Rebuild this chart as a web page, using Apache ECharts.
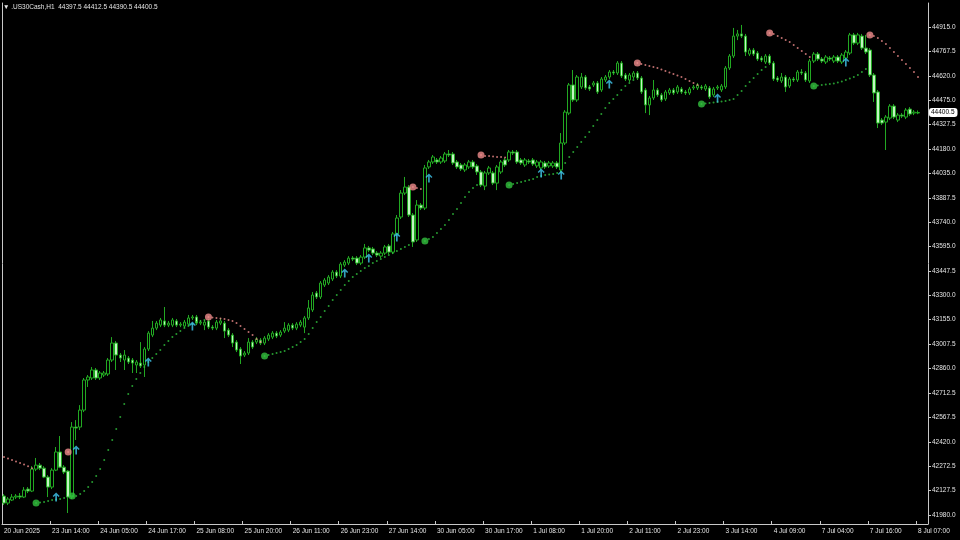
<!DOCTYPE html>
<html><head><meta charset="utf-8">
<script src="https://cdn.jsdelivr.net/npm/echarts@6/dist/echarts.min.js"></script>
<style>html,body{margin:0;padding:0;background:#000}#c{width:960px;height:540px}</style>
</head><body><div id="c"></div>
<script>
const symbolName = '.US30Cash,H1';
const lastQuote = [44397.5, 44412.5, 44390.5, 44400.5]; // O H L C
const timeLabels = ['20 Jun 2025','23 Jun 14:00','24 Jun 05:00','24 Jun 17:00','25 Jun 08:00','25 Jun 20:00','26 Jun 11:00','26 Jun 23:00','27 Jun 14:00','30 Jun 05:00','30 Jun 17:00','1 Jul 08:00','1 Jul 20:00','2 Jul 11:00','2 Jul 23:00','3 Jul 14:00','4 Jul 09:00','7 Jul 04:00','7 Jul 16:00','8 Jul 07:00'];
const labelEvery = 12;
const yTicks = [41980,42127.5,42272.5,42420,42567.5,42712.5,42860,43007.5,43155,43300,43447.5,43595,43740,43887.5,44035,44180,44327.5,44475,44620,44767.5,44915];
const yMin = 41926, yMax = 45059;
// [open, close, low, high]
const ohlc = [
[42094,42052,42040,42106],[42052,42076,42040,42088],[42070,42088,42064,42106],[42088,42094,42076,42106],[42094,42088,42076,42112],
[42088,42130,42082,42148],[42136,42124,42112,42148],[42124,42256,42118,42274],[42256,42280,42244,42323],[42280,42262,42250,42293],
[42262,42208,42202,42274],[42208,42148,42088,42220],[42148,42250,42136,42262],[42250,42359,42244,42389],[42359,42268,42262,42455],
[42268,42238,42226,42280],[42244,42088,41992,42250],[42088,42509,42076,42539],[42509,42503,42431,42551],[42509,42611,42491,42641],
[42611,42792,42599,42804],[42792,42810,42750,42822],[42804,42852,42792,42870],[42852,42804,42792,42864],[42804,42834,42792,42846],
[42822,42834,42810,42846],[42828,42912,42816,42924],[42912,43014,42900,43050],[43014,42942,42852,43026],[42942,42924,42900,42954],
[42912,42942,42852,42972],[42924,42900,42888,42936],[42912,42894,42834,42924],[42882,42900,42834,42912],[42894,42876,42864,43020],
[42882,42978,42810,42990],[42978,43074,42966,43086],[43062,43104,43050,43147],[43104,43134,43092,43147],[43122,43153,43110,43165],
[43147,43122,43110,43231],[43122,43134,43110,43147],[43122,43153,43110,43165],[43147,43122,43110,43159],[43122,43128,43110,43140],
[43116,43140,43104,43153],[43128,43165,43116,43183],[43165,43171,43153,43183],[43171,43134,43122,43183],[43134,43140,43122,43153],
[43122,43140,43092,43153],[43147,43110,43098,43159],[43110,43104,43092,43122],[43104,43140,43092,43153],[43134,43147,43122,43165],
[43134,43086,43044,43147],[43092,43062,43050,43104],[43062,43014,42990,43074],[43020,42972,42960,43032],[42978,42936,42888,42990],
[42942,42954,42930,42966],[42954,43020,42942,43044],[43020,42990,42978,43032],[43020,43038,43008,43050],[43032,43014,43002,43044],
[43014,43044,43002,43056],[43038,43062,43026,43074],[43050,43074,43038,43086],[43074,43056,43044,43086],[43062,43080,43050,43092],
[43086,43104,43074,43140],[43092,43122,43080,43134],[43122,43104,43092,43134],[43104,43128,43092,43140],[43122,43140,43110,43153],
[43110,43165,43074,43177],[43165,43225,43153,43273],[43213,43303,43201,43321],[43315,43291,43279,43327],[43291,43375,43279,43387],
[43363,43393,43351,43405],[43375,43411,43363,43423],[43399,43441,43387,43453],[43441,43417,43405,43453],[43417,43489,43405,43501],
[43483,43501,43471,43513],[43495,43525,43483,43537],[43525,43519,43507,43537],[43525,43495,43483,43537],[43495,43531,43483,43543],
[43531,43586,43519,43610],[43586,43573,43561,43598],[43580,43555,43543,43592],[43555,43543,43531,43567],[43537,43555,43525,43567],
[43555,43592,43543,43604],[43598,43561,43549,43610],[43561,43670,43549,43682],[43670,43766,43658,43784],[43772,43916,43760,43934],
[43916,43952,43904,44013],[43952,43784,43772,43964],[43784,43622,43592,43796],[43634,43844,43622,43874],[43844,43826,43814,43856],
[43826,44067,43814,44085],[44073,44103,44061,44115],[44103,44133,44091,44145],[44115,44103,44091,44127],[44103,44127,44091,44139],
[44109,44151,44097,44163],[44151,44145,44133,44175],[44151,44097,44085,44163],[44103,44073,44061,44115],[44085,44061,44049,44097],
[44055,44085,44043,44097],[44073,44103,44061,44115],[44103,44073,44061,44115],[44079,44043,44025,44091],[44043,43964,43952,44055],
[43958,44037,43934,44049],[44037,44067,44025,44079],[44037,43976,43964,44049],[43976,44073,43934,44085],[44043,44103,44031,44115],
[44115,44085,44073,44127],[44115,44163,44103,44175],[44163,44157,44145,44175],[44163,44103,44091,44175],[44115,44097,44085,44127],
[44085,44115,44073,44127],[44109,44103,44091,44121],[44115,44091,44079,44127],[44079,44103,44067,44115],[44067,44103,44055,44115],
[44097,44073,44061,44109],[44079,44097,44067,44109],[44079,44097,44067,44109],[44097,44073,44061,44109],[44055,44217,44043,44277],
[44217,44403,44205,44415],[44397,44566,44385,44578],[44566,44476,44464,44656],[44476,44614,44464,44626],[44554,44614,44542,44638],
[44614,44548,44536,44626],[44554,44542,44530,44566],[44566,44578,44554,44590],[44578,44524,44512,44590],[44536,44602,44524,44614],
[44596,44614,44584,44626],[44614,44644,44602,44656],[44644,44638,44626,44656],[44638,44698,44626,44710],[44698,44620,44608,44710],
[44626,44602,44590,44638],[44596,44626,44584,44638],[44614,44638,44602,44650],[44638,44608,44596,44650],[44608,44524,44512,44620],
[44536,44446,44397,44548],[44446,44488,44385,44500],[44488,44536,44476,44596],[44536,44506,44494,44548],[44506,44476,44464,44518],
[44482,44524,44470,44536],[44518,44536,44506,44548],[44536,44518,44506,44548],[44524,44554,44512,44566],[44542,44524,44512,44554],
[44524,44518,44506,44536],[44518,44542,44506,44554],[44548,44554,44536,44566],[44548,44566,44536,44578],[44554,44548,44536,44566],
[44542,44560,44530,44572],[44548,44494,44482,44560],[44506,44542,44494,44554],[44548,44554,44536,44566],[44536,44560,44524,44572],
[44554,44668,44542,44680],[44668,44740,44656,44752],[44740,44860,44728,44909],[44860,44873,44836,44897],[44873,44860,44848,44927],
[44860,44764,44740,44873],[44752,44776,44740,44788],[44776,44752,44740,44788],[44758,44722,44710,44770],[44728,44716,44704,44740],
[44704,44740,44692,44752],[44740,44698,44686,44752],[44698,44602,44590,44710],[44608,44596,44584,44620],[44590,44614,44578,44638],
[44614,44554,44524,44626],[44560,44602,44548,44614],[44602,44596,44584,44614],[44596,44644,44584,44656],[44644,44638,44626,44662],
[44638,44596,44584,44650],[44590,44710,44578,44722],[44710,44752,44698,44764],[44752,44722,44710,44764],[44722,44710,44698,44734],
[44704,44734,44692,44746],[44728,44722,44710,44740],[44710,44734,44698,44746],[44734,44710,44698,44746],[44704,44746,44692,44758],
[44728,44764,44716,44776],[44758,44867,44746,44879],[44867,44818,44806,44879],[44818,44867,44806,44879],[44860,44788,44776,44873],
[44788,44764,44752,44867],[44776,44626,44614,44788],[44626,44518,44464,44638],[44524,44337,44307,44536],[44355,44337,44325,44367],
[44343,44373,44175,44385],[44367,44439,44355,44451],[44439,44373,44361,44451],[44355,44385,44343,44397],[44385,44379,44367,44397],
[44373,44415,44361,44427],[44421,44391,44379,44433],[44397,44403,44385,44415],[44397.5,44400.5,44390.5,44412.5]
];
// trailing stop dots: [first bar index, values...]
const upDotSegs = [
 [8, [42052,42055,42058,42064,42070,42073,42076,42082]],
 [17, [42094,42094,42106,42124,42148,42178,42214,42256,42311,42371,42431,42497,42569,42647,42707,42756,42798,42834,42870,42900,42924,42948,42972,43002,43026,43050,43068,43086,43104,43116,43128,43140,43147,43153]],
 [65, [42936,42942,42948,42954,42960,42966,42978,42990,43002,43020,43038,43068,43104,43140,43171,43207,43237,43273,43303,43333,43363,43387,43411,43429,43447,43465,43477,43495,43507,43519,43531,43543,43555,43567,43580,43592,43604]],
 [105, [43628,43640,43652,43676,43700,43724,43754,43790,43820,43856,43892,43922,43946,43964]],
 [126, [43964,43970,43976,43982,43988,43994,44000,44013,44019,44025,44028,44031,44037,44043,44097,44133,44163,44193,44223,44253,44283,44319,44355,44391,44427,44458,44482,44506,44536,44560,44578,44596]],
 [174, [44452,44455,44458,44461,44464,44467,44470,44476,44482,44506,44530,44560,44584,44608,44632,44656,44674]],
 [202, [44560,44563,44566,44569,44572,44575,44581,44587,44596,44605,44614,44626,44644,44662]]
];
const downDotSegs = [
 [0, [42329,42320,42311,42302,42293,42284,42274,42262]],
 [16, [42359]],
 [51, [43171,43168,43165,43162,43159,43153,43147,43134,43116,43098,43080,43062,43038,43020]],
 [102, [43952,43946,43940]],
 [119, [44145,44139,44139,44136,44133,44133,44130]],
 [158, [44698,44692,44686,44680,44674,44668,44659,44650,44641,44632,44623,44614,44602,44590,44578,44566]],
 [191, [44879,44873,44861,44848,44836,44824,44806,44788,44770,44752,44734]],
 [216, [44867,44861,44849,44830,44812,44788,44764,44740,44716,44692,44668,44644,44614]]
];
const flipUpIdx = [8,17,65,105,126,174,202];
const flipDownIdx = [16,51,102,119,158,191,216];
const arrowIdx = [13,18,36,47,85,91,98,106,134,139,151,178,210];
const arrowVal = [42088,42371,42900,43116,43435,43525,43652,44007,44037,44025,44572,44488,44704];

function segPoints(segs){const out=[];segs.forEach(s=>s[1].forEach((v,k)=>out.push([s[0]+k,v])));return out;}
function lookup(segs,idx){for(const s of segs){if(idx>=s[0]&&idx<s[0]+s[1].length)return s[1][idx-s[0]];}return null;}
const upPts = segPoints(upDotSegs), downPts = segPoints(downDotSegs);
const cats = []; for(let i=0;i<ohlc.length+2;i++) cats.push(String(i));
const txt = '#e4e4e4', axisCol = '#c8c8c8';
const font = 'Liberation Sans, DejaVu Sans, sans-serif';
const arrowPath = 'path://M0,5 L5,0 L10,5 L8.5,6.5 L6.2,4.2 L6.2,13 L3.8,13 L3.8,4.2 L1.5,6.5 Z';
const fmt = v => Number(v).toFixed(1);

const chart = echarts.init(document.getElementById('c'), null, {renderer:'canvas'});
chart.setOption({
  backgroundColor:'#000',
  animation:false,
  title:{text:'\u25BC '+symbolName+'  '+[lastQuote[0],lastQuote[1],lastQuote[2],lastQuote[3]].map(fmt).join(' '),
    left:3, top:4, padding:0, textStyle:{color:txt,fontSize:6.5,fontWeight:'normal',fontFamily:font}},
  grid:{left:2,right:32,top:3,bottom:16,show:false},
  xAxis:{type:'category',data:cats,boundaryGap:true,
    axisLine:{show:true,lineStyle:{color:axisCol,width:1}},
    axisTick:{show:true,inside:true,length:3,interval:(i)=>i%labelEvery===0,lineStyle:{color:axisCol}},
    axisLabel:{interval:(i)=>i%labelEvery===0,formatter:(v,i)=>timeLabels[i/labelEvery]||'',align:'left',
      color:txt,fontSize:6.5,fontFamily:font,margin:4,hideOverlap:false},
    splitLine:{show:false}},
  yAxis:[{type:'value',position:'right',min:yMin,max:yMax,scale:true,
    axisLine:{show:true,lineStyle:{color:axisCol,width:1}},
    axisTick:{show:true,length:3,customValues:yTicks,lineStyle:{color:axisCol}},
    axisLabel:{customValues:yTicks,formatter:fmt,color:txt,fontSize:6.5,fontFamily:font,margin:4},
    splitLine:{show:false},
    axisPointer:{show:true,value:lastQuote[3],status:'show',triggerTooltip:false,type:'line',lineStyle:{opacity:0},
      label:{show:true,backgroundColor:'#ffffff',color:'#000',fontSize:6.5,fontFamily:font,padding:[1,3,1,2],margin:1,formatter:p=>fmt(p.value)}}},
   {type:'value',position:'left',min:yMin,max:yMax,axisLine:{show:true,lineStyle:{color:axisCol,width:1}},
    axisTick:{show:false},axisLabel:{show:false},splitLine:{show:false}}],
  series:[
    {type:'candlestick',data:ohlc,barWidth:3,
      itemStyle:{color:'#000000',color0:'#c2f5c2',borderColor:'#22a822',borderColor0:'#22a822',borderColorDoji:'#22a822',borderWidth:1}},
    {type:'scatter',data:upPts,symbol:'circle',symbolSize:2,itemStyle:{color:'#2fbf3c'},z:3},
    {type:'scatter',data:downPts,symbol:'circle',symbolSize:2,itemStyle:{color:'#ec8a8a'},z:3},
    {type:'scatter',data:flipUpIdx.map(i=>[i,lookup(upDotSegs,i)]),symbol:'circle',symbolSize:7,itemStyle:{color:'#33c23f'},z:4},
    {type:'scatter',data:flipDownIdx.map(i=>[i,lookup(downDotSegs,i)]),symbol:'circle',symbolSize:7,itemStyle:{color:'#f08c8c'},z:4},
    {type:'scatter',data:arrowIdx.map((i,k)=>[i,arrowVal[k]]),symbol:arrowPath,symbolSize:[7,9],itemStyle:{color:'#40c8f0'},z:4}
  ]
});
</script></body></html>
